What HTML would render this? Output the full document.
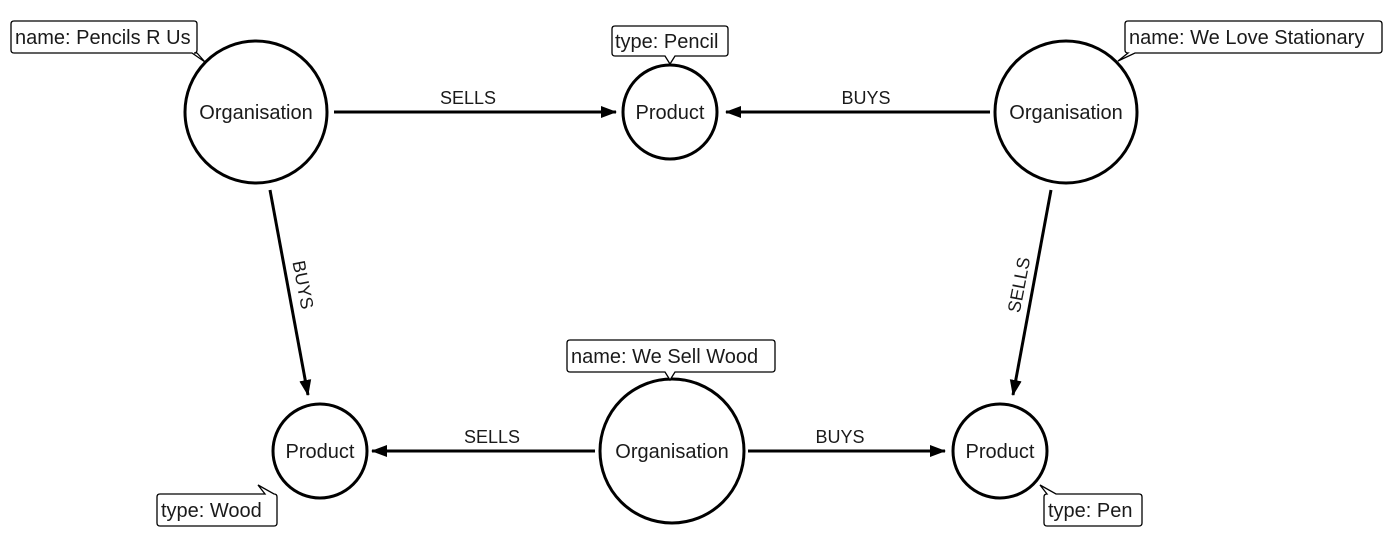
<!DOCTYPE html>
<html><head><meta charset="utf-8"><style>
html,body{margin:0;padding:0;background:#fff;}
svg{display:block;}
text{font-family:"Liberation Sans",sans-serif;fill:#1a1a1a;}
</style></head><body>
<svg width="1400" height="542" viewBox="0 0 1400 542" xmlns="http://www.w3.org/2000/svg">
<defs>
<marker id="b" markerWidth="16" markerHeight="14" refX="15" refY="7" orient="auto" markerUnits="userSpaceOnUse">
<path d="M0,1 L16,7 L0,13 Z" fill="#000"/></marker>
</defs>
<g stroke="#000" stroke-width="3" fill="none">
<line x1="334" y1="112" x2="616" y2="112" marker-end="url(#b)"/>
<line x1="990" y1="112" x2="726" y2="112" marker-end="url(#b)"/>
<line x1="270" y1="190" x2="308" y2="395" marker-end="url(#b)"/>
<line x1="1051" y1="190" x2="1013" y2="395" marker-end="url(#b)"/>
<line x1="595" y1="451" x2="372" y2="451" marker-end="url(#b)"/>
<line x1="748" y1="451" x2="945" y2="451" marker-end="url(#b)"/>
<circle cx="256" cy="112" r="71" fill="#fff"/>
<circle cx="670" cy="112" r="47" fill="#fff"/>
<circle cx="1066" cy="112" r="71" fill="#fff"/>
<circle cx="320" cy="451" r="47" fill="#fff"/>
<circle cx="672" cy="451" r="72" fill="#fff"/>
<circle cx="1000" cy="451" r="47" fill="#fff"/>
</g>
<g font-size="20" text-anchor="middle">
<text x="256" y="119">Organisation</text>
<text x="670" y="119">Product</text>
<text x="1066" y="119">Organisation</text>
<text x="320" y="458">Product</text>
<text x="672" y="458">Organisation</text>
<text x="1000" y="458">Product</text>
<text x="468" y="104" font-size="18">SELLS</text>
<text x="866" y="104" font-size="18">BUYS</text>
<text x="492" y="443" font-size="18">SELLS</text>
<text x="840" y="443" font-size="18">BUYS</text>
<text font-size="18" transform="translate(297,286) rotate(79)">BUYS</text>
<text font-size="18" transform="translate(1025,286) rotate(-79)">SELLS</text>
</g>
<g stroke="#000" stroke-width="1.3" fill="#fff">
<path d="M14,21 H194 Q197,21 197,24 V50 Q197,53 194,53 H197 L205,62 L192,53 H14 Q11,53 11,50 V24 Q11,21 14,21 Z"/>
<path d="M615,26 H725 Q728,26 728,29 V53 Q728,56 725,56 H675 L670,64 L665,56 H615 Q612,56 612,53 V29 Q612,26 615,26 Z"/>
<path d="M1128,21 H1379 Q1382,21 1382,24 V50 Q1382,53 1379,53 H1135 L1118,61 L1128,53 Q1125,53 1125,50 V24 Q1125,21 1128,21 Z"/>
<path d="M570,340 H772 Q775,340 775,343 V369 Q775,372 772,372 H675 L670,380 L665,372 H570 Q567,372 567,369 V343 Q567,340 570,340 Z"/>
<path d="M160,494 H265 L258,485 L274,494 Q277,494 277,497 V523 Q277,526 274,526 H160 Q157,526 157,523 V497 Q157,494 160,494 Z"/>
<path d="M1047,494 L1040,485 L1056,494 H1139 Q1142,494 1142,497 V523 Q1142,526 1139,526 H1047 Q1044,526 1044,523 V497 Q1044,494 1047,494 Z"/>
</g>
<g font-size="20">
<text x="15" y="44">name: Pencils R Us</text>
<text x="615" y="48">type: Pencil</text>
<text x="1129" y="44">name: We Love Stationary</text>
<text x="571" y="363">name: We Sell Wood</text>
<text x="161" y="517">type: Wood</text>
<text x="1048" y="517">type: Pen</text>
</g>
</svg>
</body></html>
